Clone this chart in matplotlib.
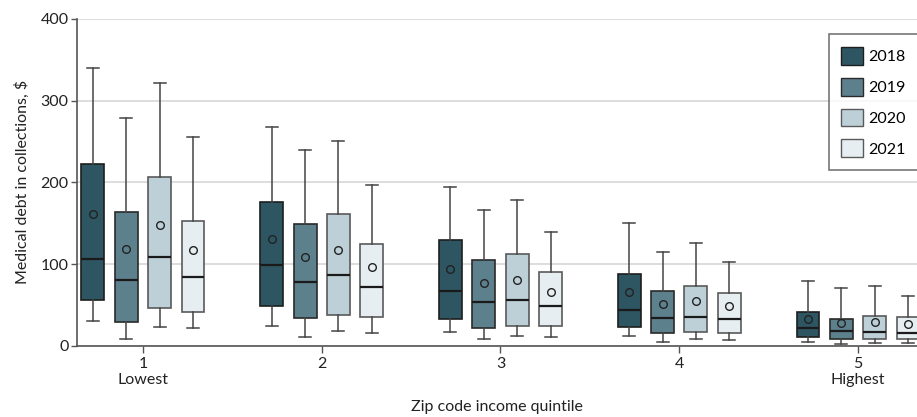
import matplotlib
matplotlib.use("Agg")
import matplotlib.pyplot as plt
from matplotlib import font_manager
from matplotlib.patches import Patch

avail = {f.name for f in font_manager.fontManager.ttflist}
fam = next((f for f in ["Liberation Sans Narrow", "Lato", "Roboto", "DejaVu Sans"] if f in avail), "DejaVu Sans")
plt.rcParams['font.family'] = [fam, 'DejaVu Sans']

quintiles = [1, 2, 3, 4, 5]
tick_labels = ["1\nLowest", "2", "3", "4", "5\nHighest"]
years = ["2018", "2019", "2020", "2021"]
colors = ["#2e5562", "#5d808d", "#bdd0d8", "#e6eef1"]
edge_colors = ["#1e1e1e", "#2a2a2a", "#5a5a5a", "#5a5a5a"]

# per year: lists over quintiles 1..5
whislo = {
    "2018": [30.6, 24.1, 16.8, 11.5, 4.9],
    "2019": [8.6, 10.6, 7.8, 4.9, 2.1],
    "2020": [22.9, 17.6, 11.9, 7.8, 3.7],
    "2021": [21.3, 15.9, 10.3, 7.0, 2.9],
}
q1 = {
    "2018": [55.6, 49.0, 32.3, 22.9, 11.0],
    "2019": [28.6, 34.3, 21.7, 15.9, 7.8],
    "2020": [45.8, 37.2, 24.5, 17.1, 7.8],
    "2021": [41.3, 34.7, 24.5, 15.5, 7.8],
}
med = {
    "2018": [106.5, 98.8, 67.3, 43.7, 21.3],
    "2019": [80.4, 78.0, 53.5, 33.9, 17.6],
    "2020": [108.2, 87.0, 56.0, 34.7, 16.8],
    "2021": [84.1, 72.2, 48.2, 32.7, 15.9],
}
q3 = {
    "2018": [223.0, 175.6, 129.4, 87.4, 41.6],
    "2019": [164.0, 149.0, 104.6, 67.0, 32.7],
    "2020": [206.6, 161.6, 112.7, 72.7, 36.0],
    "2021": [153.0, 124.9, 90.2, 64.9, 34.7],
}
whishi = {
    "2018": [340.0, 267.8, 194.7, 150.2, 79.2],
    "2019": [279.0, 239.2, 166.5, 114.7, 70.7],
    "2020": [322.0, 251.0, 178.4, 126.1, 72.7],
    "2021": [256.0, 196.4, 139.6, 102.1, 60.9],
}
mean = {
    "2018": [161.6, 130.3, 94.3, 65.8, 32.7],
    "2019": [118.4, 109.0, 76.8, 50.7, 28.2],
    "2020": [147.4, 117.5, 80.4, 55.1, 29.0],
    "2021": [117.5, 96.4, 65.8, 49.0, 26.2],
}

fig = plt.figure(figsize=(9.17, 4.17), dpi=100)
ax = fig.add_axes([77/917, 71.3/417, 1 - 77/917, 326.7/417])

offsets = [-0.28, -0.093, 0.093, 0.28]
width = 0.128
for i, y in enumerate(years):
    stats = []
    for j, q in enumerate(quintiles):
        stats.append(dict(whislo=whislo[y][j], q1=q1[y][j], med=med[y][j], q3=q3[y][j],
                          whishi=whishi[y][j], mean=mean[y][j], fliers=[]))
    pos = [q + offsets[i] for q in quintiles]
    ax.bxp(stats, positions=pos, widths=width, patch_artist=True, showmeans=True,
           showfliers=False, manage_ticks=False,
           boxprops=dict(facecolor=colors[i], edgecolor=edge_colors[i], linewidth=1.2),
           medianprops=dict(color="#1a1a1a", linewidth=1.6),
           whiskerprops=dict(color="#444444", linewidth=1.1),
           capprops=dict(color="#444444", linewidth=1.1),
           capwidths=0.067,
           meanprops=dict(marker="o", markerfacecolor="none", markeredgecolor="#222222",
                          markersize=5.5, markeredgewidth=1.0),
           zorder=3)

ax.set_xlim(1 - 66/179, 5 + 59/179)
ax.set_ylim(0, 400)
ax.set_yticks([0, 100, 200, 300, 400])
ax.set_xticks(quintiles)
ax.set_xticklabels(tick_labels, fontsize=11.5, color="#222222", linespacing=1.2)
ax.tick_params(axis="y", labelsize=11.5, labelcolor="#222222", length=4, color="#555555", width=1, pad=2)
ax.tick_params(axis="x", length=5, color="#555555", width=1, pad=3)
ax.grid(axis="y", color="#dddddd", linewidth=1.4, zorder=0)
ax.set_axisbelow(True)
for s in ["top", "right"]:
    ax.spines[s].set_visible(False)
for s in ["left", "bottom"]:
    ax.spines[s].set_color("#555555")
    ax.spines[s].set_linewidth(1.2)

ax.set_ylabel("Medical debt in collections, $", fontsize=11.5, color="#222222", labelpad=8)
ax.set_xlabel("Zip code income quintile", fontsize=11.5, color="#222222", labelpad=9)

handles = [Patch(facecolor=colors[i], edgecolor=edge_colors[i], label=y) for i, y in enumerate(years)]
leg = ax.legend(handles=handles, loc="upper right", bbox_to_anchor=(1.004, 0.958),
                fontsize=11.5, frameon=True, fancybox=False, edgecolor="#555555",
                handlelength=1.35, handleheight=1.35, handletextpad=0.35, labelspacing=0.8,
                borderpad=0.8, borderaxespad=0.1)
leg.get_frame().set_linewidth(1.2)

fig.savefig("out.png", dpi=100)
